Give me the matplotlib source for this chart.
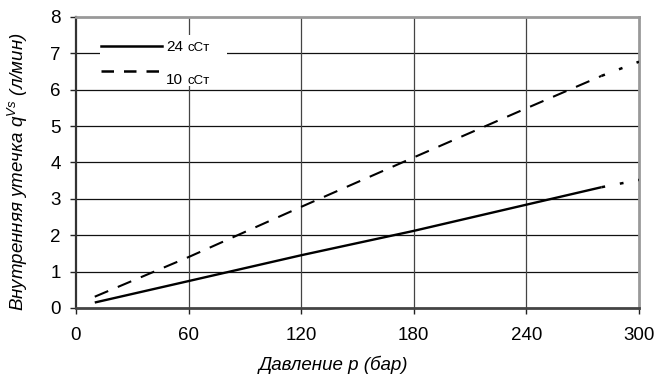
import matplotlib
matplotlib.use("Agg")
import matplotlib.pyplot as plt
from matplotlib.lines import Line2D
from matplotlib.patches import Rectangle

plt.rcParams['font.family'] = ['Liberation Sans', 'DejaVu Sans']

# Data
pressure = [10, 60, 120, 180, 240, 280]
leak_24 = [0.15, 0.74, 1.45, 2.12, 2.84, 3.32]
leak_10 = [0.31, 1.40, 2.78, 4.14, 5.49, 6.38]
pressure_ext = [280, 300]
leak_24_ext = [3.32, 3.52]
leak_10_ext = [6.38, 6.77]

x_ticks = [0, 60, 120, 180, 240, 300]
y_ticks = [0, 1, 2, 3, 4, 5, 6, 7, 8]
label_nums = ["24", "10"]
label_unit = "сСт"

fig = plt.figure(figsize=(6.54, 3.76), dpi=100)
ax = fig.add_axes([0.1162, 0.1809, 0.977 - 0.1162, 0.9548 - 0.1809])

ax.set_xlim(0, 300)
ax.set_ylim(0, 8)
ax.set_xticks(x_ticks)
ax.set_yticks(y_ticks)
ax.tick_params(axis='both', labelsize=13.5, length=4, width=1, direction='out', color='#222222')
ax.tick_params(axis='x', pad=10)
ax.tick_params(axis='y', pad=7)

for v in y_ticks[1:-1]:
    ax.axhline(v, color='#111111', lw=0.9, zorder=1)
for v in x_ticks[1:-1]:
    ax.axvline(v, color='#444444', lw=0.9, zorder=1)

for s in ['top', 'right']:
    ax.spines[s].set_color('#999999')
    ax.spines[s].set_linewidth(2)
ax.spines['left'].set_color('#333333')
ax.spines['left'].set_linewidth(1.6)
ax.spines['bottom'].set_color('#444444')
ax.spines['bottom'].set_linewidth(2)

ax.plot(pressure, leak_24, color='black', lw=1.7, solid_capstyle='butt', zorder=3)
ax.plot(pressure_ext, leak_24_ext, color='black', lw=1.8, linestyle=(0, (1.5, 6)), zorder=3)
ax.plot(pressure, leak_10, color='black', lw=1.5, linestyle=(0, (7, 5)), zorder=3)
ax.plot(pressure_ext, leak_10_ext, color='black', lw=1.8, linestyle=(0, (1.5, 6)), zorder=3)

# Legend (manual)
ax.add_patch(Rectangle((0.043, 0.763), 0.225, 0.175, transform=ax.transAxes,
                       facecolor='white', edgecolor='none', zorder=2))
ax.add_line(Line2D([0.044, 0.152], [0.900, 0.900], transform=ax.transAxes,
                   color='black', lw=1.8, zorder=4))
ax.add_line(Line2D([0.044, 0.152], [0.814, 0.814], transform=ax.transAxes,
                   color='black', lw=1.8, linestyle=(0, (5, 4)), zorder=4))
for num, ypos in zip(label_nums, [0.882, 0.770]):
    ax.text(0.160, ypos, num, transform=ax.transAxes, fontsize=11,
            va='baseline', ha='left', zorder=5)
    ax.text(0.198, ypos, label_unit, transform=ax.transAxes, fontsize=9.5,
            va='baseline', ha='left', zorder=5)

ax.set_xlabel("Давление p (бар)", fontsize=13.5, style='italic')
ax.set_ylabel("Внутренняя утечка q$^{\\mathregular{Vs}}$ (л/мин)", fontsize=13.5,
              style='italic')
ax.xaxis.set_label_coords(0.457, -0.165)
ax.yaxis.set_label_coords(-0.082, 0.47)

fig.savefig("out.png", dpi=100)
